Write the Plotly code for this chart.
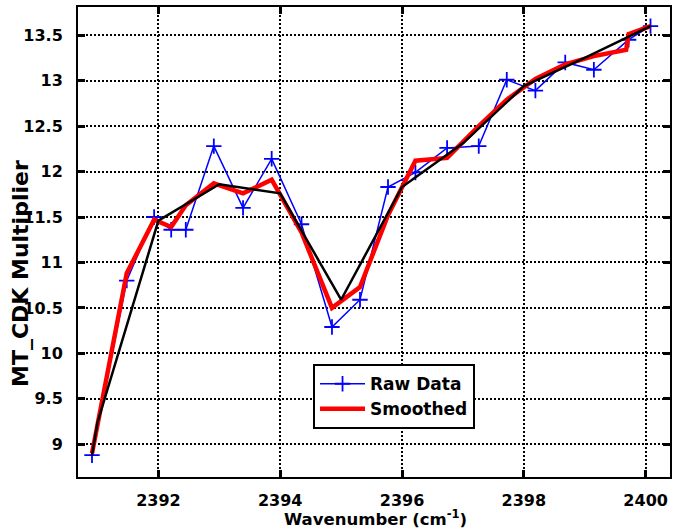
import plotly.graph_objects as go

# Measured multiplier vs. wavenumber
wavenumber = [2390.91, 2391.48, 2391.93, 2392.21, 2392.45, 2392.91, 2393.39,
              2393.86, 2394.35, 2394.85, 2395.31, 2395.77, 2396.22, 2396.74,
              2397.26, 2397.72, 2398.19, 2398.68, 2399.15, 2399.72, 2400.08]
raw_data = [8.88, 10.80, 11.50, 11.36, 11.36, 12.28, 11.60,
            12.14, 11.42, 10.29, 10.59, 11.83, 11.99, 12.26,
            12.28, 13.01, 12.89, 13.20, 13.12, 13.45, 13.60]

# Smoothed curve
smooth_x = [2390.91, 2391.48, 2391.93, 2392.21, 2392.45, 2392.91, 2393.39,
            2393.86, 2394.35, 2394.85, 2395.31, 2395.77, 2396.22, 2396.74,
            2397.26, 2397.72, 2398.19, 2398.68, 2399.15, 2399.68, 2399.72,
            2400.08]
smoothed = [8.90, 10.88, 11.47, 11.39, 11.63, 11.87, 11.76,
            11.91, 11.33, 10.50, 10.73, 11.52, 12.12, 12.15,
            12.50, 12.79, 13.02, 13.18, 13.27, 13.34, 13.51,
            13.60]

# Piecewise fit through integer wavenumbers
fit_x = [2390.91, 2391.0, 2392.0, 2393.0, 2394.0, 2395.0, 2396.0,
         2397.0, 2398.0, 2399.0, 2400.08]
fit_y = [8.88, 9.24, 11.46, 11.86, 11.76, 10.59, 11.83,
         12.31, 12.94, 13.25, 13.60]

x_ticks = [2392, 2394, 2396, 2398, 2400]
y_ticks = [9, 9.5, 10, 10.5, 11, 11.5, 12, 12.5, 13, 13.5]
y_tick_text = ["9", "9.5", "10", "10.5", "11", "11.5", "12", "12.5", "13", "13.5"]

FONT = "DejaVu Sans"

fig = go.Figure()
fig.add_trace(go.Scatter(
    x=wavenumber, y=raw_data, mode="lines+markers", name="Raw Data",
    line=dict(color="#0000ff", width=1.5),
    marker=dict(symbol="cross-thin", size=11,
                line=dict(color="#0000ff", width=1.8)),
))
fig.add_trace(go.Scatter(
    x=smooth_x, y=smoothed, mode="lines", name="Smoothed",
    line=dict(color="#ff0000", width=4.5),
))
fig.add_trace(go.Scatter(
    x=fit_x, y=fit_y, mode="lines", showlegend=False,
    line=dict(color="#000000", width=2.5),
))

axis_common = dict(
    showline=True, linecolor="black", linewidth=2, mirror="ticks",
    ticks="inside", ticklen=7, tickwidth=2.5, tickcolor="black",
    showgrid=True, gridcolor="black", gridwidth=2, griddash="2px,2px",
    zeroline=False,
    tickfont=dict(family=FONT, size=16, color="black", weight="bold"),
)

fig.update_xaxes(range=[2390.68, 2400.40], tickvals=x_ticks,
                 ticktext=[str(v) for v in x_ticks], ticklabelstandoff=8,
                 **axis_common)
fig.update_yaxes(range=[8.64, 13.81], tickvals=y_ticks,
                 ticktext=y_tick_text, ticklabelstandoff=10, **axis_common)

fig.update_layout(
    width=674, height=530,
    margin=dict(l=78, r=2, t=7, b=53),
    paper_bgcolor="white", plot_bgcolor="white",
    font=dict(family=FONT, color="black", weight="bold"),
    showlegend=True,
    legend=dict(
        x=0.397, y=0.240, xanchor="left", yanchor="top",
        bgcolor="white", bordercolor="black", borderwidth=2,
        font=dict(family=FONT, size=17, color="black", weight="bold"),
        itemwidth=45,
    ),
    annotations=[
        dict(text="Wavenumber (cm<sup>-1</sup>)", xref="paper", yref="paper",
             x=0.502, y=-0.087, xanchor="center", yanchor="middle",
             showarrow=False,
             font=dict(family=FONT, size=16.5, color="black", weight="bold")),
        dict(text="MT_CDK Multiplier", xref="paper", yref="paper",
             x=-0.098, y=0.434, xanchor="center", yanchor="middle",
             textangle=-90, showarrow=False,
             font=dict(family=FONT, size=22, color="black", weight="bold")),
    ],
)

fig.write_html("out.html")
